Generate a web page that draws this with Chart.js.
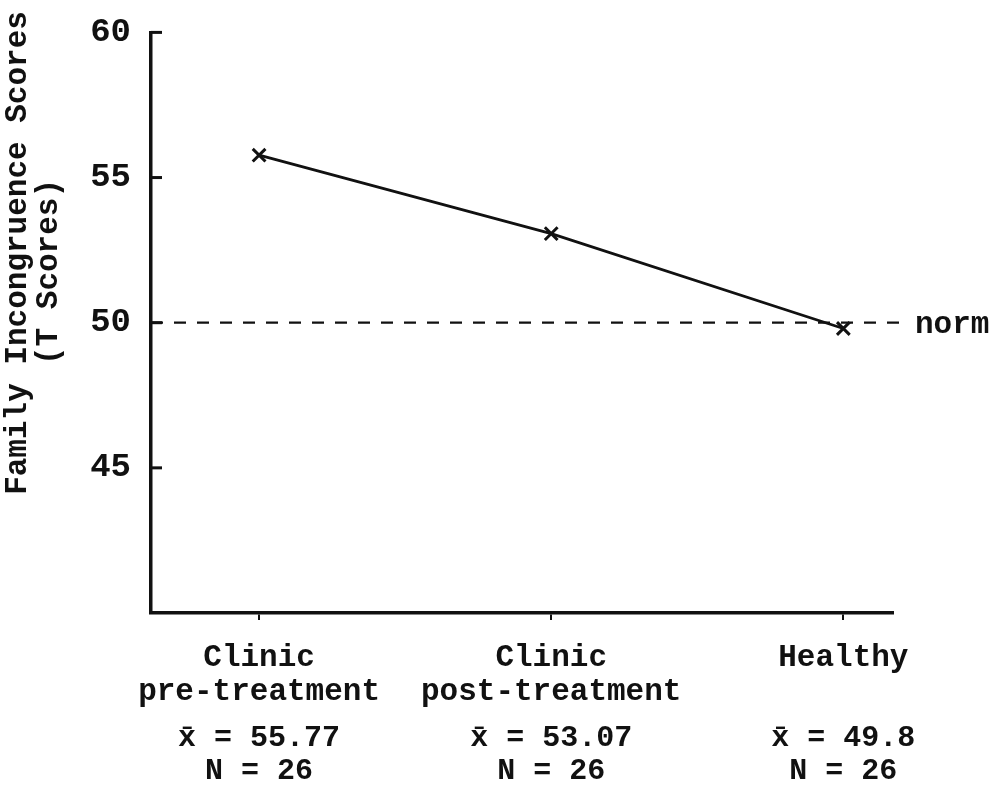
<!DOCTYPE html>
<html lang="en">
<head>
  <meta charset="UTF-8" />
  <title>Family Incongruence Scores</title>
  <script src="https://cdn.jsdelivr.net/npm/chart.js"></script>
  <style>
    body { margin: 0; background: #fff; }
    #wrap { width: 991px; height: 785px; }
  </style>
</head>
<body>
  <div id="wrap"><canvas id="grafico"></canvas></div>
  <script>
    // group labels (two lines each) and the values
    const grupos = ['Clinic', 'Clinic', 'Healthy'];
    const subGrupos = ['pre-treatment', 'post-treatment', ''];
    const medias = [55.77, 53.07, 49.8];
    const mediasTexto = ['x\u0304 = 55.77', 'x\u0304 = 53.07', 'x\u0304 = 49.8'];
    const nTexto = ['N = 26', 'N = 26', 'N = 26'];
    const yTicks = [45, 50, 55, 60];
    const norma = 50;
    const tituloY = ['Family Incongruence Scores', '(T Scores)'];

    const fonte = '"Liberation Mono", "Courier New", monospace';

    // dashed norm line, inward y ticks, y title and the mean / N lines
    const extras = {
      id: 'extras',
      afterDraw(chart) {
        const { ctx, chartArea, scales } = chart;
        const x = scales.x, y = scales.y;
        ctx.save();
        ctx.strokeStyle = '#111';
        ctx.lineWidth = 2.2;
        ctx.setLineDash([12, 11]);
        const yn = y.getPixelForValue(norma);
        ctx.beginPath();
        ctx.moveTo(chartArea.left, yn);
        ctx.lineTo(chartArea.right + 12, yn);
        ctx.stroke();
        ctx.setLineDash([]);

        ctx.lineWidth = 3;
        yTicks.forEach(v => {
          const py = y.getPixelForValue(v);
          ctx.beginPath();
          ctx.moveTo(chartArea.left, py);
          ctx.lineTo(chartArea.left + 11, py);
          ctx.stroke();
        });

        ctx.fillStyle = '#111';
        ctx.font = 'bold 31px ' + fonte;
        ctx.textAlign = 'left';
        ctx.textBaseline = 'middle';
        ctx.fillText('norm', chartArea.right + 22, yn + 2);

        ctx.textAlign = 'center';
        ctx.font = 'bold 30px ' + fonte;
        medias.forEach((m, i) => {
          const px = x.getPixelForValue(i);
          ctx.fillText(mediasTexto[i], px, 738);
          ctx.fillText(nTexto[i], px, 771);
        });

        // rotated y-axis title, two lines
        ctx.rotate(-Math.PI / 2);
        ctx.font = 'bold 31px ' + fonte;
        ctx.fillText(tituloY[0], -253, 18);
        ctx.fillText(tituloY[1], -272, 49);
        ctx.restore();
      }
    };

    new Chart(grafico, {
      type: 'line',
      data: {
        datasets: [{
          data: medias.map((v, i) => ({ x: i, y: v })),
          borderColor: '#111',
          borderWidth: 2.8,
          pointStyle: 'crossRot',
          pointRadius: 9,
          pointBorderWidth: 3,
          pointBorderColor: '#111',
          tension: 0
        }]
      },
      options: {
        responsive: true,
        maintainAspectRatio: false,
        animation: false,
        layout: { padding: { top: 12, right: 98, left: 0, bottom: 0 } },
        plugins: { legend: { display: false }, tooltip: { enabled: false } },
        scales: {
          x: {
            type: 'linear',
            min: -0.37,
            max: 2.17,
            afterBuildTicks: s => { s.ticks = [0, 1, 2].map(v => ({ value: v })); },
            afterFit: s => { s.height = 172; },
            border: { display: true, color: '#111', width: 3.5 },
            grid: { drawOnChartArea: false, color: '#111', lineWidth: 2, tickLength: 7 },
            ticks: {
              color: '#111',
              padding: 21,
              font: { family: fonte, size: 31, weight: 'bold', lineHeight: 1.1 },
              callback: v => subGrupos[v] ? [grupos[v], subGrupos[v]] : [grupos[v], '']
            }
          },
          y: {
            min: 40,
            max: 60,
            afterBuildTicks: s => { s.ticks = yTicks.map(v => ({ value: v })); },
            afterFit: s => { s.width = 151; },
            border: { display: true, color: '#111', width: 3.5 },
            grid: { display: false },
            ticks: {
              color: '#111',
              padding: 12,
              font: { family: fonte, size: 34, weight: 'bold' }
            }
          }
        }
      },
      plugins: [extras]
    });
  </script>
</body>
</html>
